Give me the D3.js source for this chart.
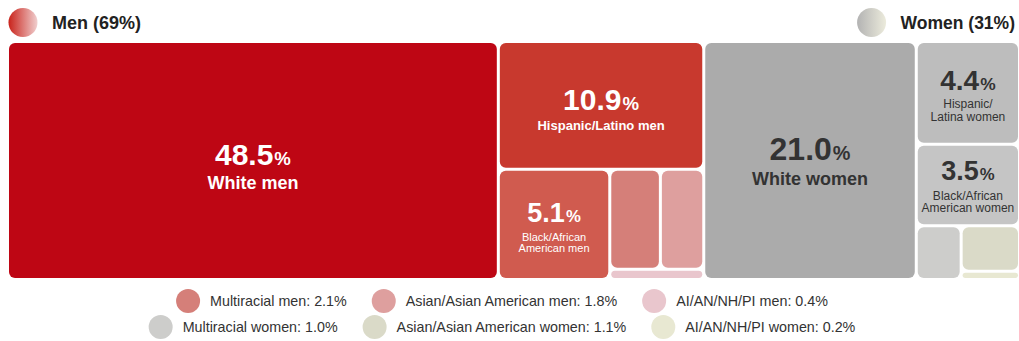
<!DOCTYPE html>
<html>
<head>
<meta charset="utf-8">
<script src="https://cdn.jsdelivr.net/npm/d3@7"></script>
<style>
  html, body { margin: 0; padding: 0; background: #fff; }
  svg { display: block; font-family: "Liberation Sans", Arial, Helvetica, sans-serif; }
</style>
</head>
<body>
<svg id="chart" width="1019" height="341"></svg>
<script>
// ---------------- data ----------------
const groups = ["Men", "Women"];
const groupShares = [69, 31];
const categories = [
  "White men", "Hispanic/Latino men", "Black/African American men",
  "Multiracial men", "Asian/Asian American men", "AI/AN/NH/PI men",
  "White women", "Hispanic/Latina women", "Black/African American women",
  "Multiracial women", "Asian/Asian American women", "AI/AN/NH/PI women"
];
const values = [48.5, 10.9, 5.1, 2.1, 1.8, 0.4, 21.0, 4.4, 3.5, 1.0, 1.1, 0.2];
const cellLabels = [
  ["White men"], ["Hispanic/Latino men"], ["Black/African", "American men"], null, null, null,
  ["White women"], ["Hispanic/", "Latina women"], ["Black/African", "American women"], null, null, null
];
const legendNames = [
  "Multiracial men", "Asian/Asian American men", "AI/AN/NH/PI men",
  "Multiracial women", "Asian/Asian American women", "AI/AN/NH/PI women"
];
const legendIdx = [[3, 4, 5], [9, 10, 11]];

// ---------------- styles ----------------
const palette = ["#be0614", "#c8392e", "#d05b4f", "#d57f79", "#de9f9e", "#e9c6cd",
                 "#ababab", "#bdbdbd", "#c5c5c5", "#cdcdcb", "#dadac8", "#e8e8d2"];
const textStyle = {
  0: {c: "#fff", n: 30, l: 18, lw: "bold", dy: 4.5, ly: [28.5]},
  1: {c: "#fff", n: 30, l: 13, lw: "bold", dy: 4.5, ly: [24.5]},
  2: {c: "#fff", n: 27, l: 11, lw: "normal", dy: -2, ly: [17, 28]},
  6: {c: "#333", n: 32, l: 18, lw: "bold", dy: -0.5, ly: [24.5]},
  7: {c: "#333", n: 28, l: 12, lw: "normal", dy: -3, ly: [15, 28]},
  8: {c: "#333", n: 27, l: 12, lw: "normal", dy: -5, ly: [15, 27]}
};

const svg = d3.select("#chart");

// ---------------- hierarchy (split structure) ----------------
const leaf = i => ({name: categories[i], idx: i, value: values[i]});
const split = (dir, children) => ({dir, children});
const tree = split("h", [
  split("h", [leaf(0), split("v", [leaf(1), split("h", [leaf(2), split("v", [split("h", [leaf(3), leaf(4)]), leaf(5)])])])]),
  split("h", [leaf(6), split("v", [leaf(7), leaf(8), split("h", [leaf(9), split("v", [leaf(10), leaf(11)])])])])
]);

const root = d3.hierarchy(tree).sum(d => d.value || 0);
const tile = (node, x0, y0, x1, y1) =>
  (node.data.dir === "v" ? d3.treemapSlice : d3.treemapDice)(node, x0, y0, x1, y1);

d3.treemap().tile(tile).size([1009, 235]).paddingInner(3).round(false)(root);

const g = svg.append("g").attr("transform", "translate(9,43)");
const leaves = root.leaves();

g.selectAll("rect").data(leaves).join("rect")
  .attr("x", d => d.x0).attr("y", d => d.y0)
  .attr("width", d => Math.max(0, d.x1 - d.x0)).attr("height", d => Math.max(0, d.y1 - d.y0))
  .attr("rx", d => Math.min(6, (d.y1 - d.y0) / 2)).attr("ry", d => Math.min(6, (d.y1 - d.y0) / 2))
  .attr("fill", d => palette[d.data.idx]);

const labeled = leaves.filter(d => cellLabels[d.data.idx]);
const lg = g.selectAll("g.lab").data(labeled).join("g").attr("class", "lab")
  .attr("transform", d => `translate(${(d.x0 + d.x1) / 2},${(d.y0 + d.y1) / 2})`);

lg.each(function(d) {
  const s = textStyle[d.data.idx];
  const el = d3.select(this);
  const t = el.append("text").attr("text-anchor", "middle").attr("y", s.dy)
    .attr("fill", s.c).attr("font-weight", "bold");
  t.append("tspan").attr("font-size", s.n).text(d3.format(".1f")(d.data.value));
  t.append("tspan").attr("font-size", s.n * 0.62).attr("dx", 1).text("%");
  cellLabels[d.data.idx].forEach((line, k) => {
    el.append("text").attr("text-anchor", "middle").attr("y", s.ly[k])
      .attr("fill", s.c).attr("font-size", s.l).attr("font-weight", s.lw).text(line);
  });
});

// ---------------- header ----------------
const defs = svg.append("defs");
const gradMen = defs.append("linearGradient").attr("id", "gMen");
gradMen.append("stop").attr("offset", "0%").attr("stop-color", "#c9231b");
gradMen.append("stop").attr("offset", "100%").attr("stop-color", "#f0cfcf");
const gradWomen = defs.append("linearGradient").attr("id", "gWomen");
gradWomen.append("stop").attr("offset", "0%").attr("stop-color", "#b3b3b3");
gradWomen.append("stop").attr("offset", "100%").attr("stop-color", "#ecebdc");

const menNode = root.children[0], womenNode = root.children[1];
svg.append("circle").attr("cx", 9 + menNode.x0 + 14).attr("cy", 22.5).attr("r", 14.5).attr("fill", "url(#gMen)");
svg.append("text").attr("x", 9 + menNode.x0 + 43).attr("y", 28.5).attr("font-size", 18).attr("font-weight", "bold")
  .attr("fill", "#222").text(`${groups[0]} (${groupShares[0]}%)`);
const wt = svg.append("text").attr("x", 9 + womenNode.x1 - 3).attr("y", 28.5).attr("text-anchor", "end")
  .attr("font-size", 17.5).attr("font-weight", "bold").attr("fill", "#222").text(`${groups[1]} (${groupShares[1]}%)`);
const wlen = wt.node().getComputedTextLength();
svg.append("circle").attr("cx", 9 + womenNode.x1 - 3 - wlen - 29).attr("cy", 22.5).attr("r", 14.5).attr("fill", "url(#gWomen)");

// ---------------- legend ----------------
const rowsY = [301, 327];
legendIdx.forEach((row, r) => {
  const lgRow = svg.append("g");
  let x = 0;
  row.forEach((i, k) => {
    const item = lgRow.append("g").attr("transform", `translate(${x},0)`);
    item.append("circle").attr("cx", 12).attr("cy", rowsY[r]).attr("r", 12).attr("fill", palette[i]);
    const tx = item.append("text").attr("x", 34).attr("y", rowsY[r] + 5).attr("font-size", 14.3)
      .attr("fill", "#333").text(`${legendNames[r * 3 + k]}: ${d3.format(".1f")(values[i])}%`);
    x += 34 + tx.node().getComputedTextLength() + 25;
  });
  const total = x - 25;
  lgRow.attr("transform", `translate(${502 - total / 2},0)`);
});
</script>
</body>
</html>
